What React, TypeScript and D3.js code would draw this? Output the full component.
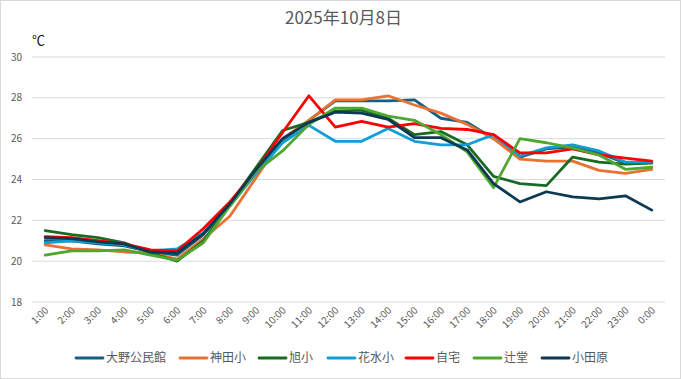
import React from "react";
import * as d3 from "d3";

const hours = ["1:00","2:00","3:00","4:00","5:00","6:00","7:00","8:00","9:00","10:00","11:00","12:00","13:00","14:00","15:00","16:00","17:00","18:00","19:00","20:00","21:00","22:00","23:00","0:00"];

const seriesNames = ["大野公民館", "神田小", "旭小", "花水小", "自宅", "辻堂", "小田原"];
const seriesColors = ["#156082", "#E97132", "#196B24", "#0F9ED5", "#FF0000", "#4EA72E", "#0C3A52"];

const oonoKominkan = [21.0, 21.0, 20.85, 20.75, 20.45, 20.3, 21.3, 22.8, 24.4, 25.9, 26.9, 27.85, 27.85, 27.85, 27.9, 27.0, 26.8, 26.0, 25.1, 25.5, 25.6, 25.3, 24.8, 24.85];
const kandaSho = [20.8, 20.6, 20.55, 20.45, 20.4, 20.1, 21.1, 22.2, 24.1, 26.0, 26.9, 27.9, 27.9, 28.1, 27.65, 27.25, 26.7, 26.0, 25.0, 24.9, 24.9, 24.45, 24.3, 24.5];
const asahiSho = [21.5, 21.3, 21.15, 20.9, 20.4, 20.0, 21.0, 22.8, 24.6, 26.4, 26.8, 27.35, 27.4, 27.0, 26.2, 26.35, 25.7, 24.15, 23.8, 23.7, 25.1, 24.85, 24.75, 24.8];
const hanamizuSho = [20.9, 21.0, 20.9, 20.8, 20.5, 20.6, 21.4, 22.7, 24.3, 25.8, 26.65, 25.87, 25.87, 26.5, 25.87, 25.7, 25.7, 26.2, 25.15, 25.55, 25.7, 25.4, 24.85, 24.85];
const jitaku = [21.2, 21.15, 21.0, 20.85, 20.55, 20.5, 21.6, 22.9, 24.45, 26.3, 28.1, 26.57, 26.85, 26.57, 26.74, 26.5, 26.45, 26.2, 25.3, 25.3, 25.5, 25.2, 25.05, 24.9];
const tsujido = [20.3, 20.5, 20.5, 20.55, 20.3, 20.05, 20.9, 22.7, 24.4, 25.4, 26.7, 27.5, 27.5, 27.1, 26.9, 26.2, 25.35, 23.6, 26.0, 25.8, 25.55, 25.2, 24.5, 24.6];
const odawara = [21.15, 21.1, 20.95, 20.85, 20.45, 20.4, 21.35, 22.8, 24.5, 26.0, 26.8, 27.3, 27.25, 26.95, 26.05, 26.05, 25.45, 23.8, 22.9, 23.4, 23.15, 23.05, 23.2, 22.5];

const seriesValues = [oonoKominkan, kandaSho, asahiSho, hanamizuSho, jitaku, tsujido, odawara];
const yTicks = [18, 20, 22, 24, 26, 28, 30];
const title = "2025年10月8日";
const unitLabel = "℃";

const W = 681;
const H = 379;
const plot = { left: 32, right: 665, top: 57, bottom: 302 };
const FONT = "'Noto Sans CJK JP', 'Noto Sans', sans-serif";

export default function App() {
  const x = d3.scalePoint<string>().domain(hours).range([plot.left, plot.right]).padding(0.5);
  const y = d3.scaleLinear().domain([18, 30]).range([plot.bottom, plot.top]);
  const line = d3.line<number>().x((_, i) => x(hours[i]) as number).y((d) => y(d));

  const legendX = [76, 180, 259, 328, 406, 474, 542];

  return (
    <svg width={W} height={H} style={{ position: "absolute", left: 0, top: 0, background: "#fff" }} fontFamily={FONT}>
      <rect x={0.5} y={0.5} width={W - 1} height={H - 1} fill="#fff" stroke="#d9d9d9" />
      <text x={W / 2 + 3} y={24} textAnchor="middle" fontSize={17} fill="#595959">{title}</text>
      <text x={32} y={45} fontSize={13} fill="#111">{unitLabel}</text>
      {yTicks.map((t) => (
        <g key={t}>
          <line x1={plot.left} x2={plot.right} y1={y(t)} y2={y(t)} stroke="#d9d9d9" strokeWidth={1} />
          <text x={22} y={y(t) + 3.5} textAnchor="end" fontSize={10} fill="#595959">{t}</text>
        </g>
      ))}
      {hours.map((h) => {
        const px = (x(h) as number) + 4;
        const py = 311;
        return (
          <text key={h} x={px} y={py} textAnchor="end" fontSize={10} fill="#595959" transform={`rotate(-45 ${px} ${py})`}>{h}</text>
        );
      })}
      {seriesValues.map((vals, si) => (
        <path key={si} d={line(vals) || ""} fill="none" stroke={seriesColors[si]} strokeWidth={2.8} strokeLinejoin="round" strokeLinecap="round" />
      ))}
      {seriesNames.map((n, si) => (
        <g key={n}>
          <line x1={legendX[si]} x2={legendX[si] + 27} y1={358} y2={358} stroke={seriesColors[si]} strokeWidth={2.8} strokeLinecap="round" />
          <text x={legendX[si] + 30} y={362} fontSize={12} fill="#595959">{n}</text>
        </g>
      ))}
    </svg>
  );
}
